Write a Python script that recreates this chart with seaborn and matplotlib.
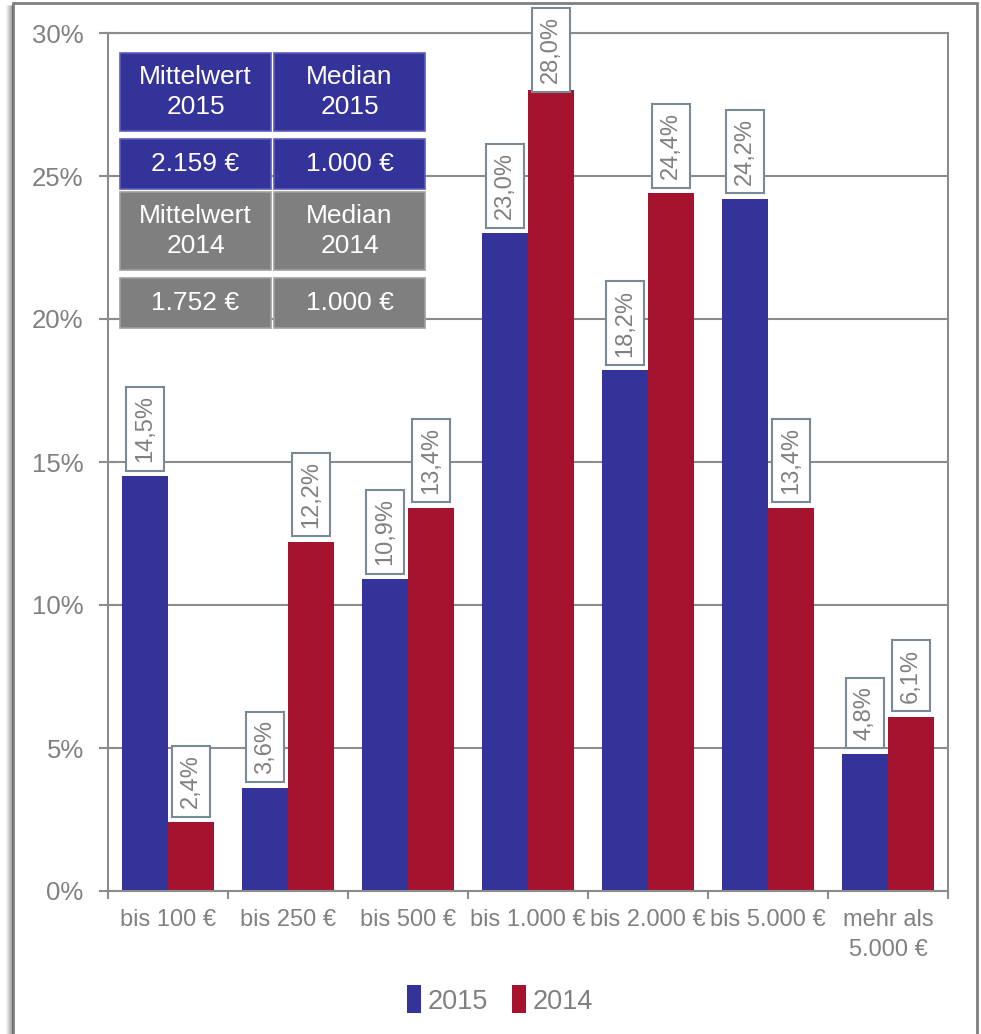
import matplotlib
matplotlib.use("Agg")
import matplotlib.pyplot as plt
import seaborn as sns
import pandas as pd
import numpy as np
from matplotlib.patches import Rectangle
from matplotlib.ticker import FixedLocator, FuncFormatter
from matplotlib.lines import Line2D

# ---------------- data ----------------
categories = ["bis 100 €", "bis 250 €", "bis 500 €", "bis 1.000 €",
              "bis 2.000 €", "bis 5.000 €", "mehr als\n5.000 €"]
values_2015 = [14.5, 3.6, 10.9, 23.0, 18.2, 24.2, 4.8]
values_2014 = [2.4, 12.2, 13.4, 28.0, 24.4, 13.4, 6.1]
series = ["2015", "2014"]
y_ticks = [0, 5, 10, 15, 20, 25, 30]
table_header_2015 = ["Mittelwert\n2015", "Median\n2015"]
table_values_2015 = ["2.159 €", "1.000 €"]
table_header_2014 = ["Mittelwert\n2014", "Median\n2014"]
table_values_2014 = ["1.752 €", "1.000 €"]

# ---------------- style ----------------
BLUE = "#333399"
RED = "#A6132F"
GRAYCELL = "#7F7F7F"
TEXT = "#808080"
GRID = "#8C8C8C"
BOXEDGE = "#7A8A94"

sns.set_theme(style="white")
plt.rcParams["font.family"] = ["Liberation Sans", "DejaVu Sans"]

df = pd.DataFrame({
    "Kategorie": categories * 2,
    "Jahr": [series[0]] * len(categories) + [series[1]] * len(categories),
    "Anteil": values_2015 + values_2014,
})

W, H = 981, 1034
fig = plt.figure(figsize=(W / 100, H / 100), dpi=100)
ax = fig.add_axes([108 / W, 1 - 891 / H, 840 / W, 858 / H])

sns.barplot(data=df, x="Kategorie", y="Anteil", hue="Jahr", hue_order=series,
            palette=[BLUE, RED], width=0.767, saturation=1, linewidth=0,
            ax=ax)

ax.set_ylim(0, 30)
ax.set_xlim(-0.5, len(categories) - 0.5)
ax.set_xlabel("")
ax.set_ylabel("")

ax.yaxis.set_major_locator(FixedLocator(y_ticks))
ax.yaxis.set_major_formatter(FuncFormatter(lambda v, p: f"{int(v)}%"))
ax.grid(axis="y", color=GRID, lw=1.5)
ax.grid(axis="x", visible=False)
ax.set_axisbelow(True)
for s in ax.spines.values():
    s.set_visible(True)
    s.set_color(GRID)
    s.set_linewidth(1.5)

ax.tick_params(axis="y", direction="inout", length=13, width=1.5, color=GRID,
               labelcolor=TEXT, labelsize=18.5, pad=11, left=True)
ax.tick_params(axis="x", which="major", length=0, labelsize=17,
               labelcolor=TEXT, pad=13)
for lbl in ax.get_xticklabels():
    lbl.set_linespacing(1.45)
ax.set_xticks(np.arange(-0.5, len(categories) + 0.5, 1), minor=True)
ax.tick_params(axis="x", which="minor", direction="out", length=6,
               width=1.5, color=GRID, bottom=True)

# ---------------- data labels ----------------
for cont in ax.containers:
    for bar in cont:
        h = bar.get_height()
        off = 5 if h >= 27 else 10
        ax.annotate(f"{h:.1f}".replace(".", ",") + "%",
                    (bar.get_x() + bar.get_width() / 2, h),
                    xytext=(0, off), textcoords="offset points",
                    rotation=90, ha="center", va="bottom",
                    fontsize=17, color=TEXT, annotation_clip=False,
                    zorder=5,
                    bbox=dict(boxstyle="square,pad=0.35", fc="white",
                              ec=BOXEDGE, lw=1.5))

# ---------------- info table ----------------
def px2ax(x0, y0, x1, y1):
    ax0 = (x0 - 108) / 840
    ax1 = (x1 - 108) / 840
    ay0 = (891 - y1) / 858
    ay1 = (891 - y0) / 858
    return ax0, ay0, ax1 - ax0, ay1 - ay0

cols = [(120, 271), (274, 425)]
rows = [((53, 131), table_header_2015, BLUE, "#5C5CC0"),
        ((139, 189), table_values_2015, BLUE, "#5C5CC0"),
        ((192, 270), table_header_2014, GRAYCELL, "#A0A0A0"),
        ((278, 328), table_values_2014, GRAYCELL, "#A0A0A0")]
for (y0, y1), texts, fc, ec in rows:
    for (x0, x1), t in zip(cols, texts):
        bx, by, bw, bh = px2ax(x0, y0, x1, y1)
        ax.add_patch(Rectangle((bx, by), bw, bh, transform=ax.transAxes,
                               fc=fc, ec=ec, lw=1.2, clip_on=False, zorder=6))
        ax.text(bx + bw / 2, by + bh / 2, t, transform=ax.transAxes,
                ha="center", va="center", color="white", fontsize=19,
                linespacing=1.35, zorder=7)

# ---------------- legend ----------------
handles, labels = ax.get_legend_handles_labels()
if ax.legend_ is not None:
    ax.legend_.remove()
fig.legend(handles, labels, loc="center", bbox_to_anchor=(500 / W, 1 - 1000 / H),
           ncol=2, frameon=False, fontsize=19.5, labelcolor=TEXT,
           handlelength=0.5, handleheight=1.2, handletextpad=0.25,
           columnspacing=0.9)

# ---------------- outer frame with shadow ----------------
for i, a in enumerate([0.05, 0.08, 0.12, 0.16, 0.2, 0.25]):
    xs = (13 - 6 + i) / W
    fig.add_artist(Line2D([xs, xs], [0, 1 - 6 / H], transform=fig.transFigure,
                          color="black", alpha=a, lw=1.2))
fig.add_artist(Rectangle((13 / W, -0.02), (977 - 13) / W, 1.02 - 3 / H,
                         transform=fig.transFigure, fill=False,
                         ec="#7F7F7F", lw=2))

fig.savefig("out.png", dpi=100)
